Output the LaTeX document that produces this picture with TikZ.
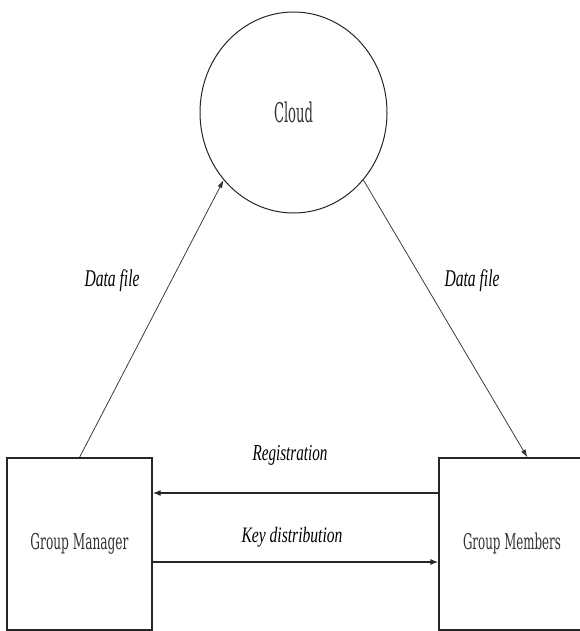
\documentclass[tikz,border=0pt]{standalone}
\usepackage{fontspec}
\setmainfont{Liberation Serif}
\newfontfamily\boxfont{DejaVu Serif}
\usetikzlibrary{shapes.geometric,arrows.meta,calc}
\newcommand\mylab[3]{\resizebox*{#1}{#2}{\itshape #3}}
\newcommand\mymono[3]{\resizebox*{#1}{#2}{\boxfont #3}}
\begin{document}
\begin{tikzpicture}[x=1pt,y=-1pt,
  lbl/.style={inner sep=0pt, text=black},
  monotext/.style={text=black!80},
  boxnode/.style={draw=black!85, line width=1.1pt, rectangle, inner sep=0pt, monotext},
  thinarrow/.style={draw=black!80, line width=0.75pt, -{Latex[length=8pt,width=5pt]}},
  thickarrow/.style={draw=black!85, line width=1.6pt, -{Latex[length=8pt,width=6pt]}}]
\useasboundingbox (0,0) rectangle (580,631);
\fill[white] (0,0) rectangle (580,631);
\node[draw=black!85, line width=1pt, ellipse, minimum width=187pt, minimum height=201pt, inner sep=0pt, monotext] (cloud) at (293.5,112.5) {\mymono{39pt}{21pt}{Cloud}};
\node[boxnode, minimum width=145pt, minimum height=172pt] (gm) at (79.5,544) {\mymono{98pt}{21pt}{Group Manager}};
\node[boxnode, minimum width=146pt, minimum height=172pt] (gmem) at (512,544) {\mymono{98pt}{21pt}{Group Members}};
\draw[thinarrow] (gm.north) -- (cloud.224);
\draw[thinarrow] (cloud.316) -- ($(gmem.north west)+(89,0)$);
\draw[thickarrow] ([yshift=51pt]gmem.west) -- ([yshift=51pt]gm.east);
\draw[thickarrow] ([yshift=-18pt]gm.east) -- ([yshift=-18pt]gmem.west);
\node[lbl] (df1) at (112,281) {\mylab{55pt}{22pt}{Data file}};
\node[lbl] (df2) at (472,281) {\mylab{55pt}{22pt}{Data file}};
\node[lbl] (reg) at (290,455) {\mylab{75pt}{20pt}{Registration}};
\node[lbl] (kd) at (292,537) {\mylab{101pt}{20pt}{Key distribution}};
\end{tikzpicture}
\end{document}
